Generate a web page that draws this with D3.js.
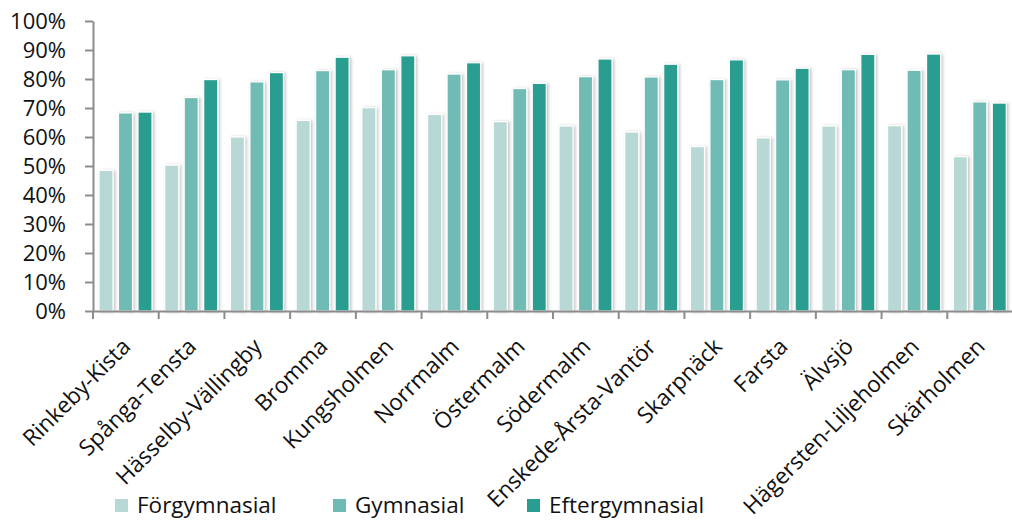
<!DOCTYPE html>
<html><head><meta charset="utf-8">
<script src="https://cdn.jsdelivr.net/npm/d3@7"></script>
<style>
html,body{margin:0;padding:0;background:#fff;}
text{font-family:"Open Sans",sans-serif;fill:#111;}
</style></head>
<body><svg id="c" width="1012" height="520"></svg>
<script>
const categories = ["Rinkeby-Kista","Spånga-Tensta","Hässelby-Vällingby","Bromma","Kungsholmen","Norrmalm","Östermalm","Södermalm","Enskede-Årsta-Vantör","Skarpnäck","Farsta","Älvsjö","Hägersten-Liljeholmen","Skärholmen"];
const seriesNames = ["Förgymnasial","Gymnasial","Eftergymnasial"];
const forgymnasial = [48.5,50.3,60.0,65.7,70.1,67.8,65.3,63.8,61.7,56.7,59.7,63.8,63.9,53.2];
const gymnasial    = [68.3,73.6,79.0,82.9,83.2,81.7,76.7,80.8,80.7,79.8,79.7,83.2,83.0,72.1];
const eftergymnasial = [68.6,79.8,82.2,87.5,88.0,85.6,78.5,86.9,85.1,86.6,83.7,88.5,88.6,71.7];
const yTicks = [0,10,20,30,40,50,60,70,80,90,100];
const colors = ["#b7d8d5","#6fbbb3","#2a9d91"];

const seriesValues = [forgymnasial, gymnasial, eftergymnasial];
const svg = d3.select("#c");
const defs = svg.append("defs");
const f = defs.append("filter").attr("id","sh").attr("x","-30%").attr("y","-10%").attr("width","170%").attr("height","130%");
f.append("feDropShadow").attr("dx",1.5).attr("dy",0.5).attr("stdDeviation",1.5).attr("flood-color","#000").attr("flood-opacity",0.25);

const mLeft = 93, mRight = 1013, mTop = 21, mBottom = 311;
const x0 = d3.scaleBand().domain(categories).range([mLeft, mRight]).padding(0);
const x1 = d3.scaleBand().domain(seriesNames).range([6, 59]).paddingInner(0.28).paddingOuter(0);
const y = d3.scaleLinear().domain([0,100]).range([mBottom, mTop]);

// bars
const g = svg.append("g");
categories.forEach((c, i) => {
  seriesNames.forEach((s, j) => {
    const v = seriesValues[j][i];
    g.append("rect")
      .attr("x", x0(c) + x1(s))
      .attr("y", y(v))
      .attr("width", x1.bandwidth())
      .attr("height", y(0) - y(v))
      .attr("fill", colors[j])
      .attr("stroke", "#fff")
      .attr("stroke-width", 1.2)
      .attr("filter", "url(#sh)");
  });
});

// y axis
const yAxis = d3.axisLeft(y).tickValues(yTicks).tickFormat(d => d + "%").tickSize(8).tickSizeOuter(0);
const ya = svg.append("g").attr("transform", `translate(${mLeft},0)`).call(yAxis);
ya.select(".domain").attr("stroke", "#8c8c8c").attr("stroke-width", 2);
ya.selectAll(".tick line").attr("stroke", "#8c8c8c").attr("stroke-width", 2);
ya.selectAll(".tick text").attr("x", -27).attr("dy", "0.35em").style("font-size", "22px").style("font-family", "'Open Sans',sans-serif").attr("fill", "#111");

// x axis
const xAxis = d3.axisBottom(x0).tickSize(0).tickFormat("");
const xa = svg.append("g").attr("transform", `translate(0,${mBottom})`).call(xAxis);
xa.select(".domain").attr("stroke", "#8c8c8c").attr("stroke-width", 2);
xa.selectAll(".tick").remove();
const bounds = categories.map(c => x0(c)).concat([mRight]);
xa.selectAll("line.sep").data(bounds).enter().append("line")
  .attr("x1", d => d).attr("x2", d => d).attr("y1", 0).attr("y2", 8)
  .attr("stroke", "#8c8c8c").attr("stroke-width", 2);

svg.append("g").selectAll("text").data(categories).enter().append("text")
  .attr("transform", d => `translate(${x0(d) + x0.bandwidth()/2 + 6},${mBottom + 37}) rotate(-45)`)
  .attr("text-anchor", "end")
  .style("font-size", "22.5px")
  .text(d => d);

// legend
const legendX = [115, 333, 527];
const lg = svg.append("g");
seriesNames.forEach((s, j) => {
  lg.append("rect").attr("x", legendX[j]).attr("y", 499).attr("width", 13).attr("height", 13).attr("fill", colors[j]);
  lg.append("text").attr("x", legendX[j] + 22).attr("y", 513).style("font-size", "22.5px").text(s);
});
</script></body></html>
